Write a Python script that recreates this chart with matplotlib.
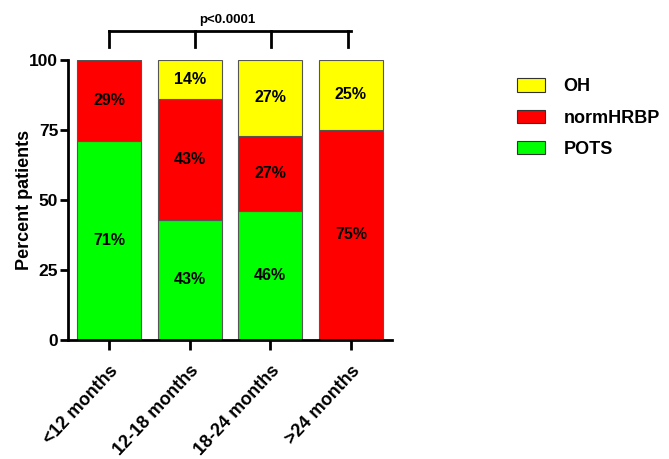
import matplotlib
matplotlib.use("Agg")
import matplotlib.pyplot as plt
from matplotlib.patches import Patch

categories = ["<12 months", "12-18 months", "18-24 months", ">24 months"]
pots = [71, 43, 46, 0]
normhrbp = [29, 43, 27, 75]
oh = [0, 14, 27, 25]
series_names = ["OH", "normHRBP", "POTS"]
yticks = [0, 25, 50, 75, 100]
p_text = "p<0.0001"

plt.rcParams['font.family'] = ['Liberation Sans', 'DejaVu Sans']
plt.rcParams['font.weight'] = 'bold'

fig = plt.figure(figsize=(6.69, 4.59), dpi=100)
ax = fig.add_axes([68/669, 1-340/459, (392-68)/669, 280/459])

x = list(range(len(categories)))
w = 0.79
ec = '#555555'
green, red, yellow = '#00ff00', '#ff0000', '#ffff00'
ax.bar(x, pots, w, color=green, edgecolor=ec, linewidth=0.8)
ax.bar(x, normhrbp, w, bottom=pots, color=red, edgecolor=ec, linewidth=0.8)
b2 = [p + n for p, n in zip(pots, normhrbp)]
ax.bar(x, oh, w, bottom=b2, color=yellow, edgecolor=ec, linewidth=0.8)

for i in x:
    for val, bot in [(pots[i], 0), (normhrbp[i], pots[i]), (oh[i], b2[i])]:
        if val > 0:
            ax.text(i, bot + val / 2, f"{val}%", ha='center', va='center',
                    fontsize=11.5, fontweight='bold')

ax.set_xlim(-0.51, 3.51)
ax.set_ylim(0, 100)
ax.set_yticks(yticks)
ax.set_yticklabels([str(t) for t in yticks], fontsize=12.5, fontweight='bold')
ax.set_xticks(x)
ax.set_xticklabels(categories, rotation=47, ha='right', rotation_mode='anchor',
                   fontsize=13, fontweight='bold')
ax.set_ylabel("Percent patients", fontsize=13, fontweight='bold')
ax.yaxis.set_label_coords(-0.108, 0.5)
for s in ['top', 'right']:
    ax.spines[s].set_visible(False)
for s in ['left', 'bottom']:
    ax.spines[s].set_linewidth(2)
ax.tick_params(axis='y', width=2, length=6, direction='out', pad=1)
ax.tick_params(axis='x', width=2, length=7, direction='out', pad=9)

# significance bracket
ytop, ybot = 110.4, 104.6
ax.plot([0, 3], [ytop, ytop], color='black', lw=2, clip_on=False)
for xi in [0, 1.06, 2.01, 2.97]:
    ax.plot([xi, xi], [ytop, ybot], color='black', lw=2, clip_on=False)
ax.text(1.47, 112.3, p_text, ha='center', va='bottom', fontsize=9.5, fontweight='bold')

handles = [Patch(facecolor=c, edgecolor='#333333', linewidth=0.8) for c in [yellow, red, green]]
fig.legend(handles, series_names, loc='upper left', bbox_to_anchor=(501/669, 1-62/459),
           frameon=False, handlelength=1.55, handleheight=0.75,
           labelspacing=0.8, handletextpad=1.0, prop={'weight': 'bold', 'size': 13})

fig.savefig("out.png", dpi=100)
